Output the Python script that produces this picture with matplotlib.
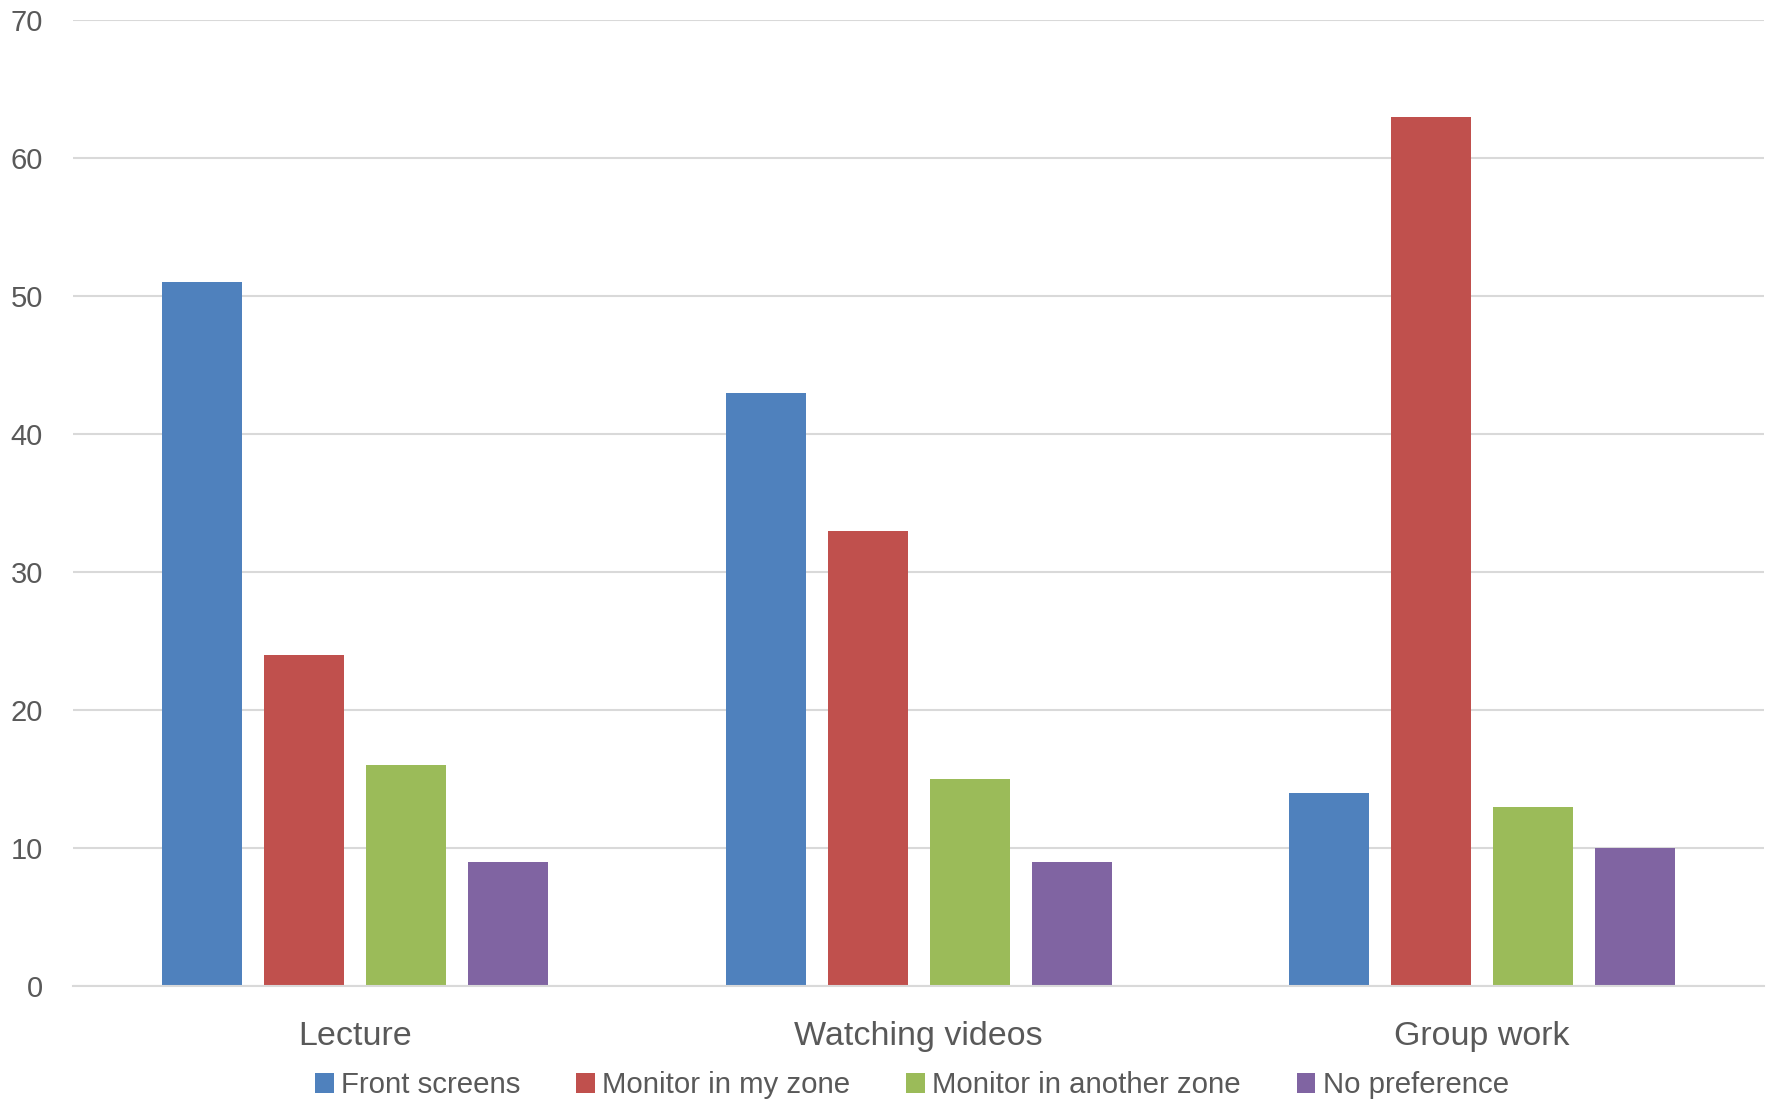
import numpy as np
import matplotlib.pyplot as plt
from matplotlib.patches import Patch

categories = ["Lecture", "Watching videos", "Group work"]
series_names = ["Front screens", "Monitor in my zone", "Monitor in another zone", "No preference"]
front_screens = [51, 43, 14]
monitor_my_zone = [24, 33, 63]
monitor_other_zone = [16, 15, 13]
no_preference = [9, 9, 10]
y_ticks = [0, 10, 20, 30, 40, 50, 60, 70]

colors = ["#4F81BD", "#C0504D", "#9BBB59", "#8064A2"]
text_color = "#595959"
grid_color = "#D9D9D9"

plt.rcParams['font.family'] = ['Liberation Sans', 'DejaVu Sans']

fig = plt.figure(figsize=(17.71, 10.99), dpi=100)
ax = fig.add_axes([0.0415, 0.1028, 0.9545, 0.8787])

values = [front_screens, monitor_my_zone, monitor_other_zone, no_preference]
x = np.arange(len(categories))
width = 0.142
step = 0.181
for i, (vals, c) in enumerate(zip(values, colors)):
    offset = (i - 1.5) * step
    ax.bar(x + offset, vals, width, color=c, zorder=3, label=series_names[i])

ax.set_xlim(-0.5, len(categories) - 0.5)
ax.set_ylim(0, 70)
ax.set_yticks(y_ticks)
ax.set_yticklabels([str(t) for t in y_ticks])
ax.yaxis.grid(True, color=grid_color, linewidth=1.5, zorder=0)
ax.set_axisbelow(True)
for s in ["top", "right", "left"]:
    ax.spines[s].set_visible(False)
ax.spines["bottom"].set_color(grid_color)
ax.spines["bottom"].set_linewidth(1.5)
ax.spines["bottom"].set_zorder(4)

ax.tick_params(axis="y", length=0, pad=22, labelsize=21, labelcolor=text_color)
ax.tick_params(axis="x", length=0, pad=25, labelsize=24.5, labelcolor=text_color)
ax.set_xticks(x)
ax.set_xticklabels(categories)

handles = [Patch(facecolor=c) for c in colors]
fig.legend(handles, series_names, loc="center", bbox_to_anchor=(0.515, 0.0125),
           ncol=4, frameon=False, fontsize=21.2, labelcolor=text_color,
           handlelength=0.63, handleheight=0.63, handletextpad=0.25, columnspacing=1.9,
           borderpad=0, borderaxespad=0)

fig.savefig("out.png", dpi=100)
